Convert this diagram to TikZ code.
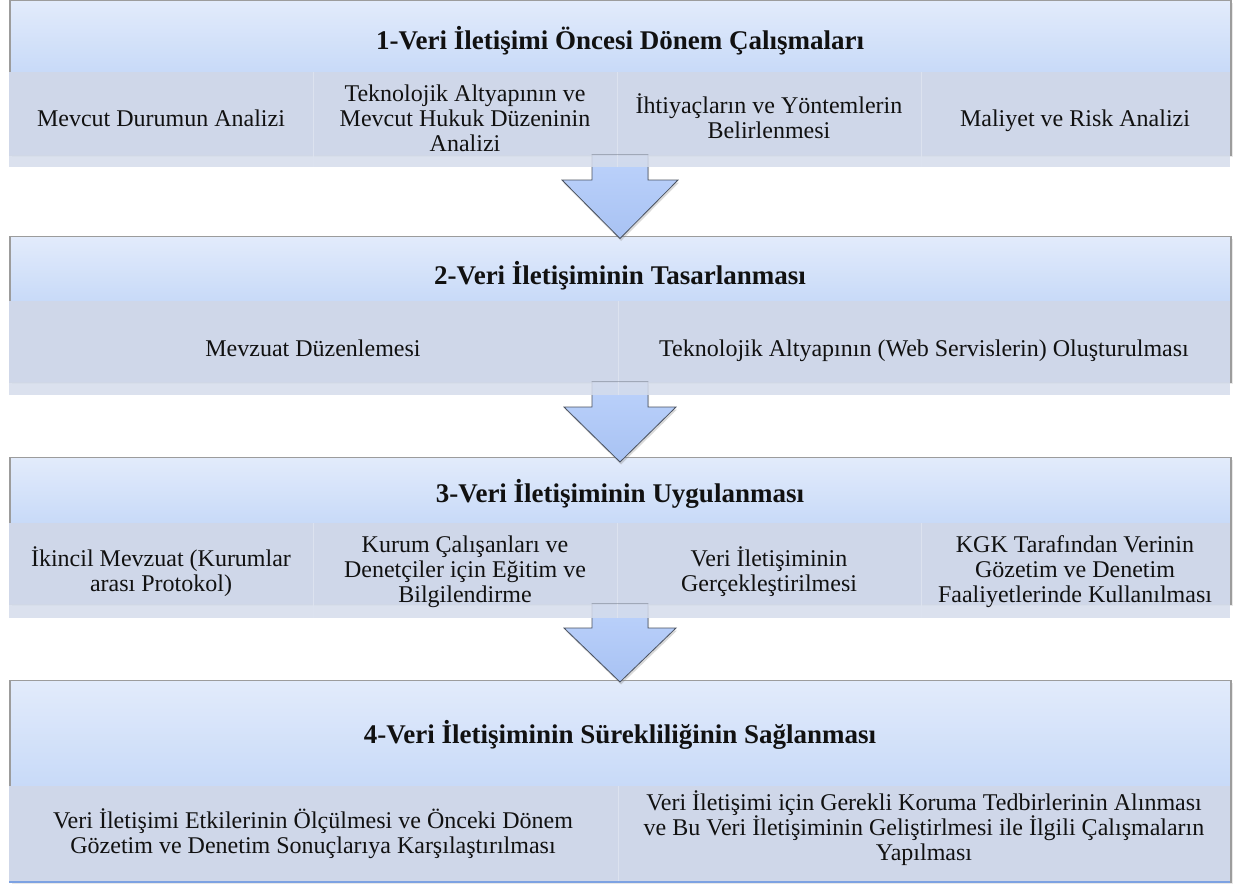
\documentclass[tikz,border=0pt]{standalone}
\usepackage{fontspec}
\setmainfont{Liberation Serif}
\usetikzlibrary{shadows}
\definecolor{htop}{HTML}{E2EBFB}
\definecolor{hbot}{HTML}{C8DAF8}
\definecolor{subfill}{HTML}{CFD7E9}
\definecolor{bandfill}{HTML}{D5DCEB}
\definecolor{framec}{HTML}{9C9C9C}
\definecolor{divc}{HTML}{DCE2EF}
\definecolor{arrtop}{HTML}{BCD2FB}
\definecolor{arrbot}{HTML}{A8C2F3}
\definecolor{arredge}{HTML}{4A5260}
\definecolor{blueline}{HTML}{7DA2E2}
\definecolor{txtc}{HTML}{111111}
\begin{document}
\begin{tikzpicture}[x=1pt,y=-1pt,
  hdr/.style={top color=htop,bottom color=hbot,draw=none},
  frm/.style={draw=framec,line width=1.2pt,
    drop shadow={opacity=0.18,shadow xshift=1.5pt,shadow yshift=-2pt}},
  subbox/.style={fill=subfill},
  divider/.style={draw=divc,line width=0.8pt},
  bandline/.style={draw=black!12!subfill,line width=0.8pt},
  band/.style={fill=bandfill,fill opacity=0.85},
  blockarrow/.style={draw=arredge,line width=0.8pt,top color=arrtop,bottom color=arrbot,
    drop shadow={opacity=0.3,shadow xshift=1pt,shadow yshift=-2.5pt}},
  ttl/.style={font=\fontsize{27}{28}\selectfont\bfseries,text=txtc,inner sep=0pt,anchor=base},
  txt/.style={font=\fontsize{24}{25}\selectfont,text=txtc,inner sep=0pt,align=center,anchor=base},
]
\useasboundingbox (0,0) rectangle (1238,888);

% ---------- Panel 1 ----------
\draw[frm,fill=white] (10,0.6) rectangle (1231,155);
\shade[hdr] (10.6,1.2) rectangle (1230.4,72);
\draw[draw=framec,line width=1.2pt] (10,0.6) rectangle (1231,155);
\fill[subbox] (9,72) rectangle (1230,155);
\foreach \x in {313,617,921} \draw[divider] (\x,72) -- (\x,155);
\draw[bandline] (9,155) -- (1230,155);

% ---------- Panel 2 ----------
\draw[frm,fill=white] (10,236.5) rectangle (1231,382);
\shade[hdr] (10.6,237.1) rectangle (1230.4,301);
\draw[draw=framec,line width=1.2pt] (10,236.5) rectangle (1231,382);
\fill[subbox] (9,301) rectangle (1230,382);
\draw[divider] (618,301) -- (618,382);
\draw[bandline] (9,382) -- (1230,382);

% ---------- Panel 3 ----------
\draw[frm,fill=white] (10,457.5) rectangle (1231,604);
\shade[hdr] (10.6,458.1) rectangle (1230.4,523);
\draw[draw=framec,line width=1.2pt] (10,457.5) rectangle (1231,604);
\fill[subbox] (9,523) rectangle (1230,604);
\foreach \x in {313,617,921} \draw[divider] (\x,523) -- (\x,604);
\draw[bandline] (9,604) -- (1230,604);

% ---------- Panel 4 ----------
\draw[frm,fill=white] (10,680.5) rectangle (1231,882);
\shade[hdr] (10.6,681.1) rectangle (1230.4,786);
\draw[draw=framec,line width=1.2pt] (10,680.5) rectangle (1231,882);
\fill[subbox] (9,786) rectangle (1230,882);
\draw[divider] (618,786) -- (618,882);
\draw[draw=blueline,line width=1.6pt] (9,882) -- (1230,882);

% ---------- Block arrows ----------
\draw[blockarrow] (592,155) -- (592,180) -- (562,180) -- (620,238.5) -- (678,180) -- (648,180) -- (648,155) -- cycle;
\draw[blockarrow] (592,382) -- (592,407) -- (564,407) -- (620,462) -- (676,407) -- (648,407) -- (648,382) -- cycle;
\draw[blockarrow] (592,604) -- (592,628) -- (564,628) -- (620,682) -- (676,628) -- (648,628) -- (648,604) -- cycle;

% ---------- Bands (semi-transparent, over arrow shafts) ----------
\fill[band] (9,155.4) rectangle (1230,167);
\foreach \x in {313,617,921} \draw[divider] (\x,155.4) -- (\x,167);
\fill[band] (9,382.4) rectangle (1230,395);
\draw[divider] (618,382.4) -- (618,395);
\fill[band] (9,604.4) rectangle (1230,618);
\foreach \x in {313,617,921} \draw[divider] (\x,604.4) -- (\x,618);

% ---------- Titles ----------
\node[ttl] (t1) at (620,50) {1-Veri İletişimi Öncesi Dönem Çalışmaları};
\node[ttl] (t2) at (620,284) {2-Veri İletişiminin Tasarlanması};
\node[ttl] (t3) at (620,502) {3-Veri İletişiminin Uygulanması};
\node[ttl] (t4) at (620,743) {4-Veri İletişiminin Sürekliliğinin Sağlanması};

% ---------- Panel 1 items (base = last line baseline) ----------
\node[txt] (s11) at (161,127) {Mevcut Durumun Analizi};
\node[txt] (s12) at (465,151) {Teknolojik Altyapının ve\\Mevcut Hukuk Düzeninin\\Analizi};
\node[txt] (s13) at (769,139) {İhtiyaçların ve Yöntemlerin\\Belirlenmesi};
\node[txt] (s14) at (1075,127) {Maliyet ve Risk Analizi};

% ---------- Panel 2 items ----------
\node[txt] (s21) at (313,356) {Mevzuat Düzenlemesi};
\node[txt] (s22) at (924,356) {Teknolojik Altyapının (Web Servislerin) Oluşturulması};

% ---------- Panel 3 items ----------
\node[txt] (s31) at (161,591) {İkincil Mevzuat (Kurumlar\\arası Protokol)};
\node[txt] (s32) at (465,602) {Kurum Çalışanları ve\\Denetçiler için Eğitim ve\\Bilgilendirme};
\node[txt] (s33) at (769,591) {Veri İletişiminin\\Gerçekleştirilmesi};
\node[txt] (s34) at (1075,602) {KGK Tarafından Verinin\\Gözetim ve Denetim\\Faaliyetlerinde Kullanılması};

% ---------- Panel 4 items ----------
\node[txt] (s41) at (313,853) {Veri İletişimi Etkilerinin Ölçülmesi ve Önceki Dönem\\Gözetim ve Denetim Sonuçlarıya Karşılaştırılması};
\node[txt] (s42) at (924,860) {Veri İletişimi için Gerekli Koruma Tedbirlerinin Alınması\\ve Bu Veri İletişiminin Geliştirlmesi ile İlgili Çalışmaların\\Yapılması};
\end{tikzpicture}
\end{document}
